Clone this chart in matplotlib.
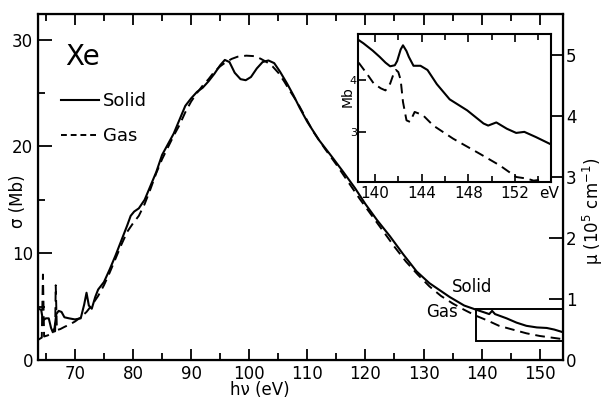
import numpy as np
import matplotlib.pyplot as plt
from matplotlib.lines import Line2D
from matplotlib.patches import Rectangle

plt.rcParams['font.family'] = 'DejaVu Sans'

# main panel, photon energy (eV) vs cross section (Mb)
solid_x = [63.7, 64.2, 64.5, 65.0, 65.5, 65.9, 66.2, 66.5, 66.8, 67.2, 67.7, 68.2, 69.0,
           70.0, 71.0, 71.6, 72.0, 72.4, 72.9, 73.5, 74.0, 75.0, 76.0, 77.0, 78.0, 79.0,
           79.6, 80.2, 81.0, 82.0, 83.0, 84.0, 85.0, 86.0, 87.0, 88.0, 89.0, 90.0, 91.0,
           92.0, 93.0, 94.0, 95.0, 95.8, 96.6, 97.5, 98.5, 99.4, 100.3, 101.3, 102.3,
           103.3, 104.3, 105.3, 106.5, 107.6, 108.7, 110.0, 112.0, 114.2, 116.2, 118.2,
           120.0, 122.0, 124.2, 126.5, 128.8, 131.0, 134.5, 137.0, 139.1, 140.5, 141.3,
           141.8, 142.3, 144.3, 146.0, 147.7, 149.5, 151.2, 152.5, 154.0]
solid_y = [4.8, 4.7, 3.7, 3.9, 3.9, 3.0, 2.6, 3.0, 4.3, 4.6, 4.5, 4.0, 3.9,
           3.8, 3.9, 5.2, 6.3, 5.1, 4.8, 5.9, 6.6, 7.3, 8.5, 9.8, 11.2, 12.6,
           13.5, 13.9, 14.2, 15.0, 16.3, 17.6, 19.2, 20.2, 21.2, 22.5, 23.8, 24.5, 25.1,
           25.5, 26.1, 26.8, 27.6, 28.1, 27.9, 26.9, 26.3, 26.2, 26.5, 27.3, 27.9,
           28.05, 27.8, 27.0, 25.9, 24.8, 23.6, 22.3, 20.6, 19.05, 17.6, 16.1,
           14.6, 13.1, 11.6, 9.9, 8.3, 7.2, 5.9, 5.1, 4.7, 4.45, 4.3,
           4.6, 4.3, 3.9, 3.5, 3.2, 3.05, 3.0, 2.85, 2.6]

gas_x = [63.7, 64.3, 64.5, 64.7, 65.3, 66.0, 66.6, 66.7, 66.9, 67.5, 68.2, 69.0, 70.0,
         71.0, 72.0, 73.0, 74.0, 75.0, 76.0, 77.0, 78.0, 79.0, 80.0, 81.0, 82.0, 83.0,
         84.0, 85.0, 86.0, 87.0, 88.0, 89.0, 90.0, 91.0, 92.0, 93.0, 94.0, 95.0, 96.0,
         97.0, 98.0, 99.5, 101.0, 102.0, 103.0, 104.0, 105.0, 106.0, 107.0, 108.2, 109.5,
         111.0, 113.0, 115.0, 117.0, 119.0, 121.0, 123.0, 125.0, 127.0, 129.0, 131.0,
         133.0, 135.0, 137.0, 139.0, 141.0, 143.0, 145.0, 147.7, 150.0, 152.0, 154.0]
gas_y = [1.9, 2.1, 8.0, 2.2, 2.3, 2.5, 2.7, 7.0, 2.8, 2.9, 3.1, 3.3, 3.6,
         4.0, 4.5, 5.2, 6.0, 7.0, 8.2, 9.5, 10.8, 12.0, 12.8, 13.5, 14.6, 16.0,
         17.5, 18.8, 19.9, 21.0, 22.0, 23.2, 24.2, 25.0, 25.7, 26.3, 27.0, 27.5, 27.9,
         28.2, 28.4, 28.5, 28.45, 28.2, 27.9, 27.5, 26.9, 26.1, 25.2, 24.2, 22.9,
         21.4, 19.8, 18.3, 16.7, 15.1, 13.6, 12.1, 10.6, 9.2, 8.0, 6.9,
         6.0, 5.3, 4.7, 4.15, 3.7, 3.2, 2.9, 2.5, 2.25, 2.1, 1.95]

# inset, 138.5 - 155 eV
ins_solid_x = [138.6, 139.0, 139.8, 140.4, 140.9, 141.3, 141.7, 141.9, 142.2, 142.4, 142.7,
               142.9, 143.3, 143.9, 144.5, 145.3, 146.4, 147.9, 149.3, 149.7, 150.4,
               151.3, 152.1, 152.8, 153.8, 155.0]
ins_solid_y = [4.76, 4.70, 4.56, 4.44, 4.33, 4.26, 4.28, 4.36, 4.58, 4.66, 4.55,
               4.44, 4.27, 4.27, 4.19, 3.92, 3.63, 3.42, 3.17, 3.13, 3.19,
               3.07, 2.99, 3.01, 2.91, 2.78]
ins_gas_x = [138.6, 139.3, 139.9, 140.5, 140.9, 141.3, 141.6, 141.8, 142.0, 142.2, 142.4,
             142.7, 143.0, 143.4, 144.1, 145.0, 146.7, 149.0, 150.7, 152.1, 153.0,
             153.6, 154.3]
ins_gas_y = [4.33, 4.12, 3.93, 3.84, 3.80, 3.93, 4.12, 4.19, 4.15, 4.00, 3.58,
             3.23, 3.20, 3.39, 3.33, 3.13, 2.88, 2.59, 2.37, 2.15, 2.12,
             2.08, 2.10]

box_x = [139.1, 154.0]
box_y = [1.81, 4.78]

mb_per_mu = 5.72   # sigma (Mb) per mu (1e5 cm^-1)

fig = plt.figure(figsize=(6.04, 4.0), dpi=100)
ax = fig.add_axes([38 / 604, 40 / 400, 525 / 604, 346 / 400])

ax.plot(solid_x, solid_y, color='black', lw=1.5)
ax.plot(gas_x, gas_y, color='black', lw=1.4, dashes=[5, 3])
ax.add_patch(Rectangle((box_x[0], box_y[0]), box_x[1] - box_x[0], box_y[1] - box_y[0],
                       fill=False, ec='black', lw=1.4))

ax.set_xlim(63.65, 154.0)
ax.set_ylim(0, 32.4)
ax.set_xticks(np.arange(70, 151, 10))
ax.set_xticks(np.arange(65, 154, 5), minor=True)
ax.set_yticks([0, 10, 20, 30])
ax.set_yticks([5, 15, 25], minor=True)
ax.tick_params(which='both', direction='in', top=True, labelsize=12, width=1.3)
ax.tick_params(which='major', length=8)
ax.tick_params(which='minor', length=5)
ax.tick_params(axis='y', which='major', length=10)
for s in ax.spines.values():
    s.set_linewidth(1.6)

ax.text(-0.038, 0.46, 'σ (Mb)', transform=ax.transAxes, rotation=90,
        ha='center', va='center', fontsize=12)
ax.text(0.423, -0.088, 'hν (eV)', transform=ax.transAxes,
        ha='center', va='center', fontsize=12)
ax.text(68.3, 28.4, 'Xe', fontsize=20, va='center', ha='left')
ax.text(134.8, 6.87, 'Solid', fontsize=12, va='center', ha='left')
ax.text(130.5, 4.53, 'Gas', fontsize=12, va='center', ha='left')

handles = [Line2D([], [], color='black', lw=1.5),
           Line2D([], [], color='black', lw=1.4, dashes=[3, 2])]
ax.legend(handles, ['Solid', 'Gas'], loc='upper left', bbox_to_anchor=(0.027, 0.80),
          frameon=False, fontsize=13, handlelength=2.1, handletextpad=0.2,
          labelspacing=0.95, borderpad=0)

# right axis, absorption coefficient
ax2 = ax.twinx()
ax2.set_ylim(0, 32.4 / mb_per_mu)
ax2.set_yticks([0, 1, 2, 3, 4, 5])
ax2.tick_params(direction='in', length=10, width=1.3, labelsize=12, pad=2)
ax2.text(1.057, 0.43, 'μ (10$^5$ cm$^{-1}$)', transform=ax2.transAxes, rotation=90,
         ha='center', va='center', fontsize=12)

# inset
ins = fig.add_axes([358.3 / 604, (400 - 181.7) / 400, 192.4 / 604, 147.4 / 400])
ins.plot(ins_solid_x, ins_solid_y, color='black', lw=1.5)
ins.plot(ins_gas_x, ins_gas_y, color='black', lw=1.4, dashes=[5, 3])
ins.set_xlim(138.57, 155.06)
ins.set_ylim(2.06, 4.87)
ins.set_xticks([140, 144, 148, 152])
ins.set_xticks([142, 146, 150, 154], minor=True)
ins.set_yticks([3, 4])
ins.tick_params(which='both', direction='in', top=True, labelsize=11, width=1.2, pad=3)
ins.tick_params(which='major', length=6)
ins.tick_params(which='minor', length=4)
ins.tick_params(axis='y', labelsize=8, pad=1)
for s in ins.spines.values():
    s.set_linewidth(1.5)
ins.text(0.99, -0.077, 'eV', transform=ins.transAxes, ha='center', va='center', fontsize=11)
ins.text(-0.057, 0.575, 'Mb', transform=ins.transAxes, rotation=90,
         ha='center', va='center', fontsize=10)

fig.savefig('out.png', dpi=100)
